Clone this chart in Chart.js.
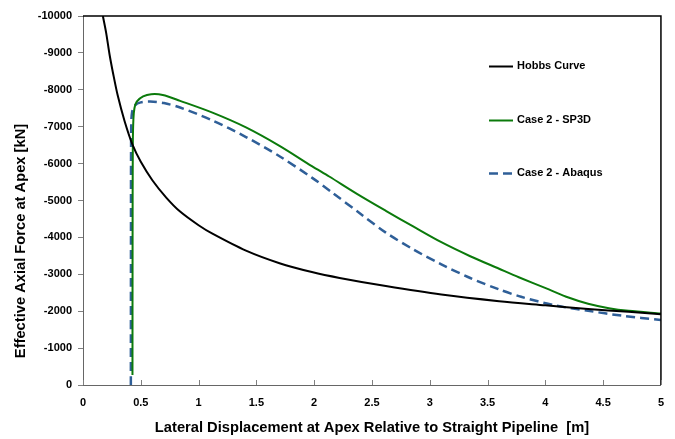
<!DOCTYPE html>
<html>
<head>
<meta charset="utf-8">
<script src="https://cdn.jsdelivr.net/npm/chart.js@4/dist/chart.umd.min.js"></script>
<style>
  html, body { margin: 0; padding: 0; background: #fff; }
  #wrap { width: 675px; height: 439px; }
</style>
</head>
<body>
<div id="wrap"><canvas id="c" width="675" height="439"></canvas></div>
<script>
// Hobbs analytical curve
const hobbsX = [0.172, 0.2, 0.23, 0.26, 0.3, 0.36, 0.43, 0.5, 0.6, 0.72, 0.84, 1.0, 1.12, 1.41, 1.7, 1.98, 2.22, 2.62, 3.1, 3.6, 4.0, 4.37, 4.72, 5.0];
const hobbsY = [-10000, -9550, -8950, -8450, -7850, -7150, -6500, -6050, -5550, -5080, -4700, -4330, -4100, -3640, -3300, -3060, -2900, -2680, -2450, -2270, -2160, -2060, -1985, -1920];

// Case 2 - SP3D
const sp3dX = [0.428, 0.429, 0.431, 0.436, 0.445, 0.465, 0.52, 0.59, 0.69, 0.84, 1.12, 1.41, 1.7, 1.98, 2.13, 2.37, 2.62, 2.86, 3.1, 3.35, 3.6, 3.77, 4.03, 4.2, 4.37, 4.55, 4.72, 5.0];
const sp3dY = [-270, -4000, -6500, -7200, -7500, -7680, -7820, -7880, -7860, -7700, -7380, -6980, -6480, -5930, -5650, -5180, -4720, -4290, -3870, -3490, -3150, -2920, -2590, -2370, -2200, -2080, -2010, -1940];

// Case 2 - Abaqus
const abaqusX = [0.414, 0.415, 0.417, 0.425, 0.45, 0.5, 0.58, 0.7, 0.84, 1.12, 1.41, 1.7, 1.98, 2.15, 2.4, 2.62, 2.86, 3.1, 3.35, 3.6, 3.79, 4.08, 4.37, 4.66, 5.0];
const abaqusY = [0, -4000, -7000, -7400, -7580, -7660, -7680, -7640, -7520, -7170, -6720, -6200, -5620, -5230, -4640, -4130, -3670, -3270, -2900, -2590, -2390, -2160, -2010, -1880, -1760];

// Axis ticks
const xTicks = [0, 0.5, 1, 1.5, 2, 2.5, 3, 3.5, 4, 4.5, 5];
const yTicks = [0, -1000, -2000, -3000, -4000, -5000, -6000, -7000, -8000, -9000, -10000];

const seriesNames = ['Hobbs Curve', 'Case 2 - SP3D', 'Case 2 - Abaqus'];
const xTitle = 'Lateral Displacement at Apex Relative to Straight Pipeline  [m]';
const yTitle = 'Effective Axial Force at Apex [kN]';

const pts = (xs, ys) => xs.map((x, i) => ({ x: x, y: ys[i] }));

const tickFont = { family: 'Liberation Sans, Arial, sans-serif', size: 11, weight: 'bold' };
const titleFont = { family: 'Liberation Sans, Arial, sans-serif', size: 14.7, weight: 'bold' };
const legendFont = 'bold 11px "Liberation Sans", Arial, sans-serif';

// frame on top/right, inward x ticks, rotated y title and in-plot legend
const decorations = {
  id: 'decorations',
  afterDraw(chart) {
    const { ctx, chartArea: a, scales } = chart;
    ctx.save();
    // top and right frame
    ctx.strokeStyle = '#000';
    ctx.lineWidth = 1.5;
    ctx.beginPath();
    ctx.moveTo(a.left, a.top);
    ctx.lineTo(a.right, a.top);
    ctx.lineTo(a.right, a.bottom);
    ctx.stroke();
    // inward tick marks on x axis
    ctx.strokeStyle = '#808080';
    ctx.lineWidth = 1;
    xTicks.forEach(v => {
      const px = Math.round(scales.x.getPixelForValue(v)) + 0.5;
      ctx.beginPath();
      ctx.moveTo(px, a.bottom);
      ctx.lineTo(px, a.bottom - 5);
      ctx.stroke();
    });
    // y axis title
    ctx.fillStyle = '#000';
    ctx.font = 'bold 14.7px "Liberation Sans", Arial, sans-serif';
    ctx.textAlign = 'center';
    ctx.textBaseline = 'middle';
    ctx.translate(21, 241);
    ctx.rotate(-Math.PI / 2);
    ctx.fillText(yTitle, 0, 0);
    ctx.restore();

    // legend
    ctx.save();
    const rows = [66, 120, 173];
    chart.data.datasets.forEach((ds, i) => {
      const y = rows[i];
      ctx.strokeStyle = ds.borderColor;
      ctx.lineWidth = ds.borderWidth;
      ctx.setLineDash(ds.borderDash || []);
      ctx.beginPath();
      ctx.moveTo(489, y + 0.5);
      ctx.lineTo(513, y + 0.5);
      ctx.stroke();
      ctx.setLineDash([]);
      ctx.fillStyle = '#000';
      ctx.font = legendFont;
      ctx.textAlign = 'left';
      ctx.textBaseline = 'middle';
      ctx.fillText(ds.label, 517, y);
    });
    ctx.restore();
  }
};

const bgPlugin = {
  id: 'bg',
  beforeDraw(chart) {
    const ctx = chart.ctx;
    ctx.save();
    ctx.fillStyle = '#fff';
    ctx.fillRect(0, 0, chart.width, chart.height);
    ctx.restore();
  }
};

new Chart(document.getElementById('c'), {
  type: 'line',
  data: {
    datasets: [
      { label: seriesNames[0], data: pts(hobbsX, hobbsY), borderColor: '#000000', borderWidth: 2, pointRadius: 0, tension: 0.3, fill: false },
      { label: seriesNames[1], data: pts(sp3dX, sp3dY), borderColor: '#0b7a0b', borderWidth: 2, pointRadius: 0, tension: 0.3, fill: false },
      { label: seriesNames[2], data: pts(abaqusX, abaqusY), borderColor: '#2f5f98', borderWidth: 2.5, borderDash: [9, 5], pointRadius: 0, tension: 0.3, fill: false }
    ]
  },
  options: {
    responsive: false,
    animation: false,
    devicePixelRatio: 1,
    layout: { padding: { left: 0, top: 16, right: 12, bottom: 0 } },
    plugins: { legend: { display: false }, tooltip: { enabled: false } },
    scales: {
      x: {
        type: 'linear', min: 0, max: 5,
        afterFit(s) { s.height = 54; },
        afterBuildTicks(s) { s.ticks = xTicks.map(v => ({ value: v })); },
        grid: { display: true, drawOnChartArea: false, drawTicks: false },
        border: { display: true, color: '#666', width: 1 },
        ticks: { color: '#000', font: tickFont, padding: 11, maxRotation: 0, autoSkip: false, callback: v => String(v) },
        title: { display: true, text: xTitle, color: '#000', font: titleFont, padding: { top: 0, bottom: 2 } }
      },
      y: {
        type: 'linear', min: -10000, max: 0, reverse: true,
        afterFit(s) { s.width = 83; },
        afterBuildTicks(s) { s.ticks = yTicks.map(v => ({ value: v })); },
        grid: { display: true, drawOnChartArea: false, drawTicks: true, tickLength: 5, color: '#808080' },
        border: { display: true, color: '#666', width: 1 },
        ticks: { color: '#000', font: tickFont, padding: 6, autoSkip: false, callback: v => String(v) }
      }
    }
  },
  plugins: [bgPlugin, decorations]
});
</script>
</body>
</html>
